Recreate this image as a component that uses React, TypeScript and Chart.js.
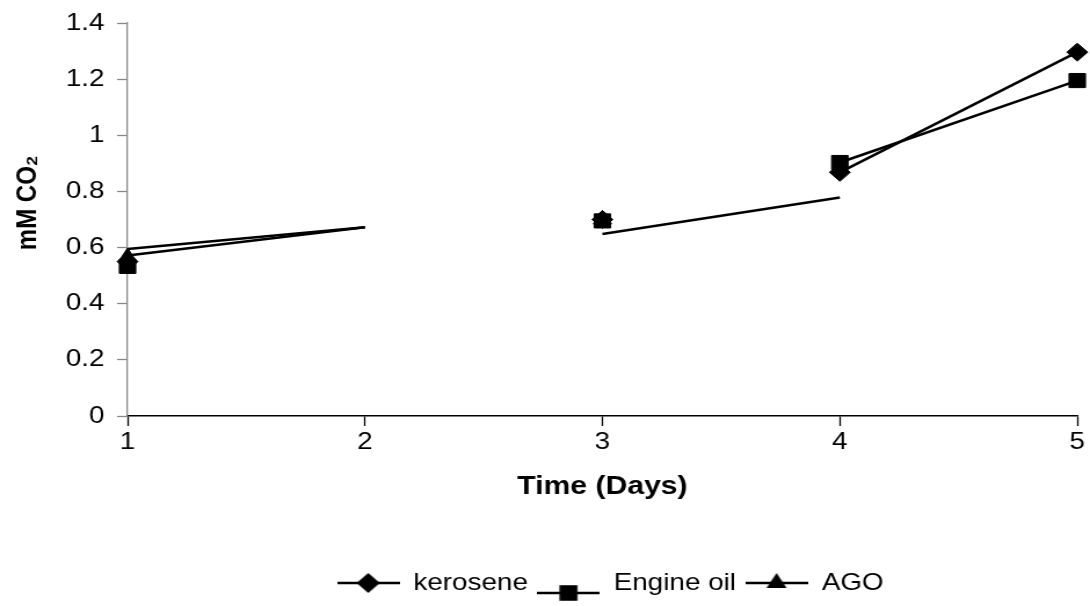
import React, { useEffect, useRef } from 'react';
import { Chart, registerables } from 'chart.js';

Chart.register(...registerables);

// ---- data ----
const days = ['1', '2', '3', '4', '5'];
const seriesNames = ['kerosene', 'Engine oil', 'AGO'];
const kerosene = [0.55, null, 0.7, 0.868, 1.296];
const engineOil = [0.533, null, 0.695, 0.903, 1.195];
const ago = [0.566, null, 0.7, null, null];
const lineDay1to2Upper = [0.595, 0.672, null, null, null];
const lineDay1to2Lower = [0.572, 0.672, null, null, null];
const lineDay3to4 = [null, null, 0.648, 0.778, null];
const yMin = 0;
const yMax = 1.4;
const yStep = 0.2;
const xTitle = 'Time (Days)';
const yTitle = '     mM CO₂';

// ---- layout ----
const STRETCH = 1.16;
const PAGE_W = 1090;
const PAGE_H = 606;
const W = Math.round(PAGE_W / STRETCH);
const FONT = '"Liberation Sans", Arial, sans-serif';
const ICON_W = 54;

function makeIcon(style: string, r: number, yOff: number): HTMLCanvasElement {
  const w = ICON_W;
  const h = 48;
  const c = document.createElement('canvas');
  c.width = w;
  c.height = h;
  const g = c.getContext('2d')!;
  g.strokeStyle = '#000';
  g.fillStyle = '#000';
  g.lineWidth = 2.5;
  const cx = w / 2;
  const cy = h / 2 + yOff;
  g.beginPath();
  g.moveTo(0, cy);
  g.lineTo(w, cy);
  g.stroke();
  g.beginPath();
  if (style === 'rectRot') {
    g.moveTo(cx, cy - r);
    g.lineTo(cx + r, cy);
    g.lineTo(cx, cy + r);
    g.lineTo(cx - r, cy);
  } else if (style === 'rect') {
    const s = r * Math.SQRT1_2;
    g.rect(cx - s, cy - s, 2 * s, 2 * s);
  } else {
    for (let k = 0; k < 3; k++) {
      const a = (k * 2 * Math.PI) / 3;
      const px = cx + Math.sin(a) * r;
      const py = cy - Math.cos(a) * r;
      if (k === 0) g.moveTo(px, py);
      else g.lineTo(px, py);
    }
  }
  g.closePath();
  g.fill();
  return c;
}

export default function App() {
  const ref = useRef<HTMLCanvasElement>(null);

  useEffect(() => {
    const canvas = ref.current!;
    const markerStyles = ['rectRot', 'rect', 'triangle'];
    const markerRadius = [9, 10, 9];
    const iconOffsets = [0, 10, 0];
    const icons = markerStyles.map((s, i) => makeIcon(s, markerRadius[i] + 1, iconOffsets[i]));
    const hideSeg = (ctx: any) => (ctx.p0DataIndex === 2 ? 'rgba(0,0,0,0)' : undefined);
    const seriesData = [kerosene, engineOil, ago];

    const seriesSets = seriesNames.map((name, i) => ({
      label: name,
      data: seriesData[i],
      borderColor: '#000',
      backgroundColor: '#000',
      borderWidth: 2.5,
      pointStyle: markerStyles[i],
      pointRadius: markerRadius[i],
      pointHoverRadius: markerRadius[i],
      pointBackgroundColor: '#000',
      pointBorderColor: '#000',
      pointBorderWidth: 1,
      spanGaps: false,
      tension: 0,
      clip: false,
      segment: { borderColor: hideSeg },
    }));
    const trendSets = [lineDay1to2Upper, lineDay1to2Lower, lineDay3to4].map((d) => ({
      label: '',
      data: d,
      borderColor: '#000',
      backgroundColor: '#000',
      borderWidth: 2.5,
      pointRadius: 0,
      pointHoverRadius: 0,
      spanGaps: false,
      tension: 0,
      clip: false,
    }));

    const chartRightInternal = Math.round(1080 / STRETCH);
    const yAxisWidth = Math.round(128 / STRETCH);
    const legendStartX = 337 / STRETCH;
    const legendPad = 8;
    const legendTop = 563;

    const legendPlace = {
      id: 'legendPlace',
      afterLayout(chart: any) {
        const l = chart.legend;
        if (!l) return;
        const h = l.bottom - l.top;
        l.left = legendStartX - legendPad;
        l.right = l.left + 900;
        l.top = legendTop;
        l.bottom = legendTop + h;
      },
    };

    const chart = new Chart(canvas, {
      type: 'line',
      data: { labels: days, datasets: [...seriesSets, ...trendSets] as any },
      plugins: [legendPlace],
      options: {
        responsive: false,
        animation: false,
        devicePixelRatio: 1,
        layout: { padding: { left: 0, right: W - chartRightInternal, top: 23, bottom: 0 } },
        scales: {
          x: {
            type: 'category',
            offset: false,
            grid: { drawOnChartArea: false, tickLength: 10, color: '#000', tickWidth: 1.3 },
            border: { color: '#000', width: 1.5 },
            ticks: { color: '#000', padding: 2, font: { family: FONT, size: 24 }, maxRotation: 0, autoSkip: false },
            title: { display: true, text: xTitle, color: '#000', font: { family: FONT, size: 26, weight: 'bold' }, padding: { top: 0, bottom: 62 } },
            afterFit: (s: any) => {
              s.height = 148;
              s.paddingLeft = 0;
              s.paddingRight = 0;
            },
          },
          y: {
            min: yMin,
            max: yMax,
            grid: { drawOnChartArea: false, tickLength: 9, color: '#888', tickWidth: 1.3 },
            border: { color: '#888', width: 1.3 },
            ticks: {
              stepSize: yStep,
              color: '#000',
              padding: 11,
              font: { family: FONT, size: 24 },
              callback: (v: any) => String(Math.round(Number(v) * 10) / 10),
            },
            title: { display: true, text: yTitle, color: '#000', font: { family: FONT, size: 24, weight: 'bold' }, padding: { top: 10, bottom: 0 } },
            afterFit: (s: any) => {
              s.width = yAxisWidth;
              s.paddingTop = 0;
              s.paddingBottom = 0;
            },
          },
        },
        plugins: {
          tooltip: { enabled: false },
          legend: {
            position: 'bottom',
            align: 'start',
            fullSize: false,
            labels: {
              usePointStyle: true,
              pointStyleWidth: ICON_W,
              padding: legendPad,
              color: '#000',
              font: { family: FONT, size: 24 },
              generateLabels: () =>
                seriesNames.map((name, i) => ({
                  text: name,
                  pointStyle: icons[i] as any,
                  datasetIndex: i,
                  fillStyle: '#000',
                  strokeStyle: '#000',
                  lineWidth: 0,
                  hidden: false,
                })),
            },
          },
        },
      } as any,
    });
    return () => chart.destroy();
  }, []);

  return (
    <div style={{ position: 'fixed', left: 0, top: 0, width: PAGE_W, height: PAGE_H, background: '#fff' }}>
      <canvas
        ref={ref}
        width={W}
        height={PAGE_H}
        style={{ width: PAGE_W + 'px', height: PAGE_H + 'px', display: 'block' }}
      />
    </div>
  );
}
